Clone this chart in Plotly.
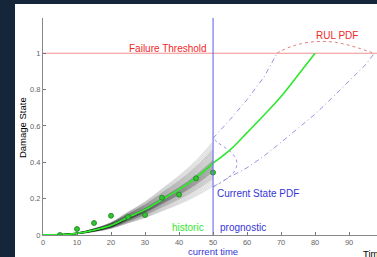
import plotly.graph_objects as go

# ---------------- data ----------------
time_hist = [0, 5, 10, 15, 20, 25, 30, 35, 40, 45, 50]
damage_hist = [0, 0.002, 0.009, 0.027, 0.053, 0.097, 0.14, 0.195, 0.25, 0.315, 0.395]

time_prog = [50, 55, 60, 65, 70, 75, 80]
damage_prog = [0.395, 0.468, 0.563, 0.66, 0.762, 0.88, 1.0]

meas_time = [5, 10, 15, 20, 25, 30, 35, 40, 45, 50]
meas_damage = [0.0, 0.033, 0.066, 0.106, 0.099, 0.11, 0.205, 0.222, 0.312, 0.344]

fan_factors = [0.68, 0.70, 0.72, 0.74, 0.76, 0.78, 0.79, 0.80, 0.81, 0.82, 0.83, 0.84,
               0.85, 0.86, 0.87, 0.88, 0.885, 0.89, 0.895, 0.90, 0.905, 0.91, 0.915, 0.92,
               0.925, 0.93, 0.935, 0.94, 0.945, 0.95, 0.955, 0.96, 0.965, 0.97, 0.975, 0.98,
               0.985, 0.99, 0.995, 1.00, 1.005, 1.01, 1.015, 1.02, 1.025, 1.03, 1.035, 1.04,
               1.045, 1.05, 1.06, 1.07, 1.08, 1.09, 1.10, 1.11, 1.12, 1.13, 1.14, 1.15,
               1.16, 1.17, 1.18, 1.19, 1.20, 1.22, 1.24, 1.26, 1.28, 1.30]

upper_time = [50, 55, 60, 65, 68.8]
upper_damage = [0.532, 0.635, 0.745, 0.87, 1.0]

lower_time = [50, 55, 60, 65, 70, 75, 80, 85, 90, 95, 97.4]
lower_damage = [0.265, 0.32, 0.37, 0.435, 0.51, 0.59, 0.665, 0.755, 0.85, 0.94, 1.0]

state_pdf_damage = [0.265, 0.285, 0.31, 0.34, 0.37, 0.395, 0.42, 0.45, 0.48, 0.51, 0.532]
state_pdf_time = [50.0, 52.0, 54.0, 55.9, 56.8, 57.0, 56.7, 55.6, 53.6, 51.3, 50.0]

rul_time = [68.8, 70, 72, 74, 76, 78, 80, 82, 84, 86, 88, 90, 92, 94, 96, 97.6]
rul_damage = [1.0, 1.013, 1.03, 1.043, 1.053, 1.06, 1.064, 1.065, 1.064, 1.06, 1.053, 1.044,
              1.033, 1.021, 1.008, 1.0]

threshold = 1.0
current_time = 50
x_ticks = [0, 10, 20, 30, 40, 50, 60, 70, 80, 90]
y_ticks = [0, 0.2, 0.4, 0.6, 0.8, 1]
y_tick_text = ["0", "0.2", "0.4", "0.6", "0.8", "1"]

# ---------------- styles ----------------
FONT = "Liberation Sans, Arial, sans-serif"
GREEN = "#2ee82e"
BLUE_TXT = "#3535d8"
BLUE_LINE = "#6a6af0"
BLUE_DASH = "#9494e0"
RED_TXT = "#f02828"
RED_LINE = "#f09090"
PAGE_BG = "#15263a"

fig = go.Figure()

# gray fan of particle trajectories
for f in fan_factors:
    fig.add_trace(go.Scatter(
        x=time_hist, y=[v * f for v in damage_hist], mode="lines",
        line=dict(color="rgba(0,0,0,0.13)", width=1, shape="spline"),
        hoverinfo="skip", showlegend=False))

# threshold
fig.add_trace(go.Scatter(x=[0, 98.2], y=[threshold, threshold], mode="lines",
                         line=dict(color=RED_LINE, width=1.2), showlegend=False))

# bounds
DASHDOT = "5px,3px,1px,3px"
fig.add_trace(go.Scatter(x=upper_time, y=upper_damage, mode="lines",
                         line=dict(color=BLUE_DASH, width=1, dash=DASHDOT), showlegend=False))
fig.add_trace(go.Scatter(x=lower_time, y=lower_damage, mode="lines",
                         line=dict(color=BLUE_DASH, width=1, dash=DASHDOT), showlegend=False))

# current state pdf
fig.add_trace(go.Scatter(x=state_pdf_time, y=state_pdf_damage, mode="lines",
                         line=dict(color=BLUE_DASH, width=1, dash="dot", shape="spline"),
                         showlegend=False))
# RUL pdf
fig.add_trace(go.Scatter(x=rul_time, y=rul_damage, mode="lines",
                         line=dict(color="#e08080", width=1, dash="dot", shape="spline"),
                         showlegend=False))

# green estimate
fig.add_trace(go.Scatter(x=time_hist, y=damage_hist, mode="lines",
                         line=dict(color=GREEN, width=1.8, shape="spline"), showlegend=False))
fig.add_trace(go.Scatter(x=time_prog, y=damage_prog, mode="lines",
                         line=dict(color=GREEN, width=1.6, shape="spline"), showlegend=False))

# measurements
fig.add_trace(go.Scatter(x=meas_time, y=meas_damage, mode="markers",
                         marker=dict(color="#33c433", size=5, line=dict(color="#1a801a", width=0.8)),
                         showlegend=False))

# current time line
fig.add_trace(go.Scatter(x=[current_time, current_time], y=[0, 1.194], mode="lines",
                         line=dict(color=BLUE_LINE, width=1.1), showlegend=False))

def ann(text, x, y, color, size=10, xanchor="center", yanchor="middle", xref="x", yref="y", angle=0):
    fig.add_annotation(text=text, x=x, y=y, xref=xref, yref=yref, showarrow=False,
                       xanchor=xanchor, yanchor=yanchor, textangle=angle,
                       font=dict(family=FONT, size=size, color=color), borderpad=0)

ann("Failure Threshold", 36.7, 1.028, RED_TXT)
ann("RUL PDF", 86.4, 1.095, RED_TXT)
ann("Current State PDF", 51.0, 0.231, BLUE_TXT, xanchor="left")
ann("historic", 47.6, 0.039, GREEN, xanchor="right")
ann("prognostic", 51.7, 0.039, BLUE_TXT, xanchor="left")
ann("current time", current_time, -0.074, BLUE_TXT, size=9.5, yref="paper")
ann("Time", 93.8, -0.085, "#000000", size=9.5, xanchor="left", yref="paper")
ann("Damage State", -0.062, 0.59, "#000000", size=9.5, xref="paper", angle=-90)

# white figure panel over dark page
fig.add_shape(type="rect", xref="paper", yref="paper", x0=-0.0838, x1=1.05, y0=-0.2, y1=1.0645,
              fillcolor="white", line=dict(width=0), layer="below")

fig.update_layout(
    width=377, height=257,
    margin=dict(l=43, r=0, t=18, b=22),
    paper_bgcolor=PAGE_BG, plot_bgcolor="white",
    font=dict(family=FONT),
    xaxis=dict(range=[0, 98.2], tickvals=x_ticks, ticks="inside", ticklen=3, tickcolor="#777",
               showgrid=False, zeroline=False, showline=True, linecolor="#888", linewidth=1,
               tickfont=dict(size=7.5, color="#666"), fixedrange=True),
    yaxis=dict(range=[0, 1.194], tickvals=y_ticks, ticktext=y_tick_text, ticks="inside",
               ticklen=3, tickcolor="#777",
               showgrid=False, zeroline=False, showline=True, linecolor="#888", linewidth=1,
               tickfont=dict(size=7.5, color="#666"), fixedrange=True),
)

fig.write_html(
    "out.html",
    config={"displayModeBar": False},
    post_script="document.body.style.margin='0';document.body.style.overflow='hidden';"
                "document.body.style.background='" + PAGE_BG + "';",
)
